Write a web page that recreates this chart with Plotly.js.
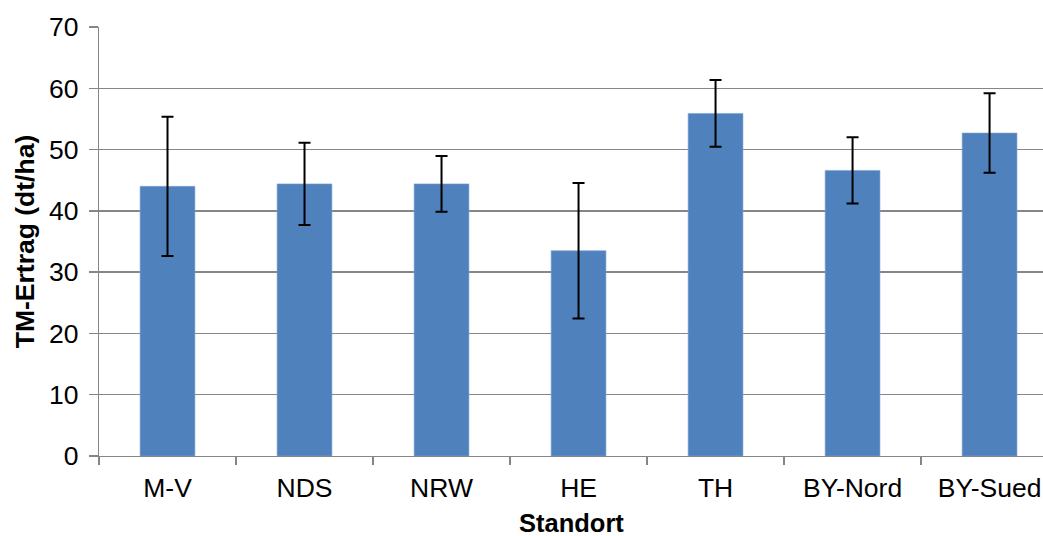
<!DOCTYPE html>
<html>
<head>
<meta charset="utf-8">
<script src="https://cdn.plot.ly/plotly-3.0.1.min.js"></script>
<style>html,body{margin:0;padding:0;background:#fff;}#chart{width:1043px;height:536px;}</style>
</head>
<body>
<div id="chart"></div>
<script>
const categories = ["M-V", "NDS", "NRW", "HE", "TH", "BY-Nord", "BY-Sued"];
const values = [44.0, 44.4, 44.4, 33.5, 55.9, 46.6, 52.7];
const errors = [11.35, 6.7, 4.55, 11.05, 5.45, 5.4, 6.5];
const yTicks = [0, 10, 20, 30, 40, 50, 60, 70];
const xTitle = "Standort";
const yTitle = "TM-Ertrag (dt/ha)";

const trace = {
  type: "bar",
  x: categories,
  y: values,
  width: 0.4,
  marker: {color: "#4F81BD", line: {color: "#7FA2D3", width: 0.6}},
  error_y: {type: "data", array: errors, visible: true, color: "#000000", thickness: 2, width: 6}
};

const font = {family: "Liberation Sans, Arial, sans-serif", color: "#000000"};
const layout = {
  width: 1043, height: 536,
  margin: {l: 99, r: 0, t: 27, b: 80, pad: 0},
  paper_bgcolor: "#ffffff", plot_bgcolor: "#ffffff",
  showlegend: false,
  bargap: 0.6,
  xaxis: {
    type: "category",
    range: [-0.5, 6.39],
    tickson: "boundaries",
    ticks: "outside", ticklen: 8, tickcolor: "#868686", tickwidth: 1.3,
    showline: true, linecolor: "#868686", linewidth: 1.3,
    showgrid: false, zeroline: false,
    tickfont: Object.assign({size: 26.5}, font),
    ticklabelstandoff: 8
  },
  yaxis: {
    range: [0, 70],
    tickvals: yTicks,
    ticks: "outside", ticklen: 9, tickcolor: "#868686", tickwidth: 1.3,
    showline: true, linecolor: "#868686", linewidth: 1.3,
    showgrid: true, gridcolor: "#868686", gridwidth: 1.3,
    zeroline: false,
    tickfont: Object.assign({size: 26.5}, font),
    ticklabelstandoff: 5,
    title: {text: "<b>" + yTitle + "</b>", font: Object.assign({size: 26.5}, font), standoff: 6}
  },
  annotations: [{
    text: "<b>" + xTitle + "</b>",
    xref: "paper", yref: "paper",
    x: 0.5, y: -67 / 429,
    xanchor: "center", yanchor: "middle",
    showarrow: false, borderpad: 0,
    font: Object.assign({size: 25.5}, font)
  }]
};

Plotly.newPlot("chart", [trace], layout, {displayModeBar: false, staticPlot: true});
</script>
</body>
</html>
